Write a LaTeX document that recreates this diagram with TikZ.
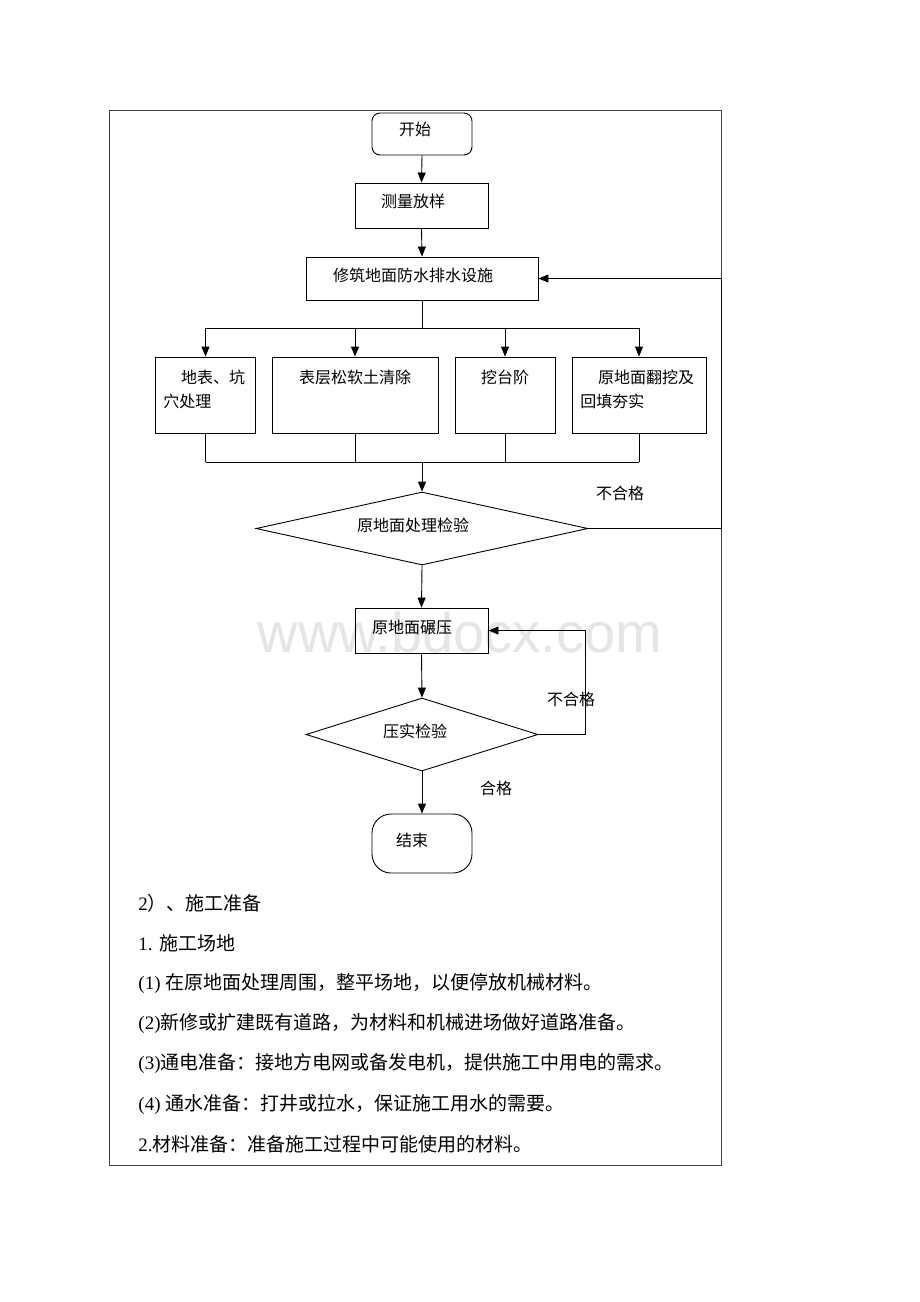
\documentclass[tikz,border=0pt]{standalone}
\usepackage{fontspec}
\setmainfont{Liberation Serif}
\newfontfamily\cjk{Noto Sans CJK SC}
\newfontfamily\wmfont{Liberation Sans}
\usetikzlibrary{arrows.meta,shapes.geometric}
\begin{document}
\begin{tikzpicture}[x=1pt,y=-1pt,
  line width=0.9pt,
  arr/.style={-{Triangle[length=10pt,width=8pt]}},
  boxa/.style={draw,rectangle,inner sep=0pt},
  diam/.style={draw,diamond,inner sep=0pt},
  ftext/.style={font=\fontsize{16}{20}\selectfont\cjk,inner sep=0pt},
  btext/.style={font=\fontsize{19}{22}\selectfont\cjk,inner sep=0pt,anchor=west}
]
\useasboundingbox (0,0) rectangle (920,1302);
\fill[white] (0,0) rectangle (920,1302);
% watermark
\node[font=\fontsize{56}{60}\selectfont\wmfont,text=black!10,inner sep=0pt] (wm) at (460,632) {www.bdocx.com};
% frame
\node[draw,line width=0.7pt,draw=black!75,minimum width=612pt,minimum height=1055pt,inner sep=0pt] (frame) at (415,637.5) {};
% nodes
\node[boxa,rounded corners=8pt,minimum width=100pt,minimum height=42pt] (start) at (422,134) {};
\node[ftext] (tstart) at (415,129) {开始};
\node[boxa,minimum width=133pt,minimum height=45pt] (measure) at (421.5,205.5) {};
\node[ftext] (tmeasure) at (413,201) {测量放样};
\node[boxa,minimum width=232pt,minimum height=43pt] (build) at (422,278.5) {};
\node[ftext] (tbuild) at (413,275) {修筑地面防水排水设施};
\node[boxa,minimum width=100pt,minimum height=76pt] (b1) at (205.5,395) {};
\node[boxa,minimum width=166pt,minimum height=76pt] (b2) at (355,395) {};
\node[boxa,minimum width=100pt,minimum height=76pt] (b3) at (505,395) {};
\node[boxa,minimum width=134pt,minimum height=76pt] (b4) at (639,395) {};
\node[ftext,anchor=north west,align=left] (tb1) at (163,369) {\hspace{1.1em}地表、坑\\[4pt]穴处理};
\node[ftext,anchor=north] (tb2) at (355,369) {表层松软土清除};
\node[ftext,anchor=north] (tb3) at (505,369) {挖台阶};
\node[ftext,anchor=north west,align=left] (tb4) at (580,369) {\hspace{1.1em}原地面翻挖及\\[4pt]回填夯实};
\node[diam,minimum width=332pt,minimum height=73pt] (d1) at (422,528.5) {};
\node[ftext] (td1) at (413,525) {原地面处理检验};
\node[boxa,minimum width=133pt,minimum height=45pt] (roll) at (421.5,630.5) {};
\node[ftext] (troll) at (412,627) {原地面碾压};
\node[diam,minimum width=232pt,minimum height=73pt] (d2) at (422,734.5) {};
\node[ftext] (td2) at (415,731) {压实检验};
\node[boxa,rounded corners=19pt,minimum width=100pt,minimum height=59pt] (end) at (422,843.5) {};
\node[ftext] (tend) at (412,840) {结束};
% labels
\node[ftext] (l1) at (620,493) {不合格};
\node[ftext] (l2) at (571,699) {不合格};
\node[ftext] (l3) at (496,788) {合格};
% connectors
\draw[arr] (start.south) -- (measure.north);
\draw[arr] (measure.south) -- (build.north);
\coordinate (split) at (422,328);
\draw (build.south) -- (split);
\draw (b1.north |- split) -- (b4.north |- split);
\foreach \b in {b1,b2,b3,b4} {\draw[arr] (\b.north |- split) -- (\b.north);}
\coordinate (join) at (422,462);
\foreach \b in {b1,b2,b3,b4} {\draw (\b.south) -- (\b.south |- join);}
\draw (b1.south |- join) -- (b4.south |- join);
\draw[arr] (join) -- (d1.north);
\draw[arr] (d1.east) -- (d1.east -| frame.east) |- (build.east);
\draw[arr] (d1.south) -- (roll.north);
\draw[arr] (roll.south) -- (d2.north);
\coordinate (loop) at (585,734.5);
\draw[arr] (d2.east) -- (loop) |- (roll.east);
\draw[arr] (d2.south) -- (end.north);
% body text
\node[btext] (p1) at (138,903) {{\rmfamily 2}）、施工准备};
\node[btext] (p2) at (138,943) {{\rmfamily 1. }施工场地};
\node[btext] (p3) at (138,983) {{\rmfamily (1) }在原地面处理周围，整平场地，以便停放机械材料。};
\node[btext] (p4) at (138,1023) {{\rmfamily (2)}新修或扩建既有道路，为材料和机械进场做好道路准备。};
\node[btext] (p5) at (138,1063) {{\rmfamily (3)}通电准备：接地方电网或备发电机，提供施工中用电的需求。};
\node[btext] (p6) at (138,1104) {{\rmfamily (4) }通水准备：打井或拉水，保证施工用水的需要。};
\node[btext] (p7) at (138,1144) {{\rmfamily 2.}材料准备：准备施工过程中可能使用的材料。};
\end{tikzpicture}
\end{document}
